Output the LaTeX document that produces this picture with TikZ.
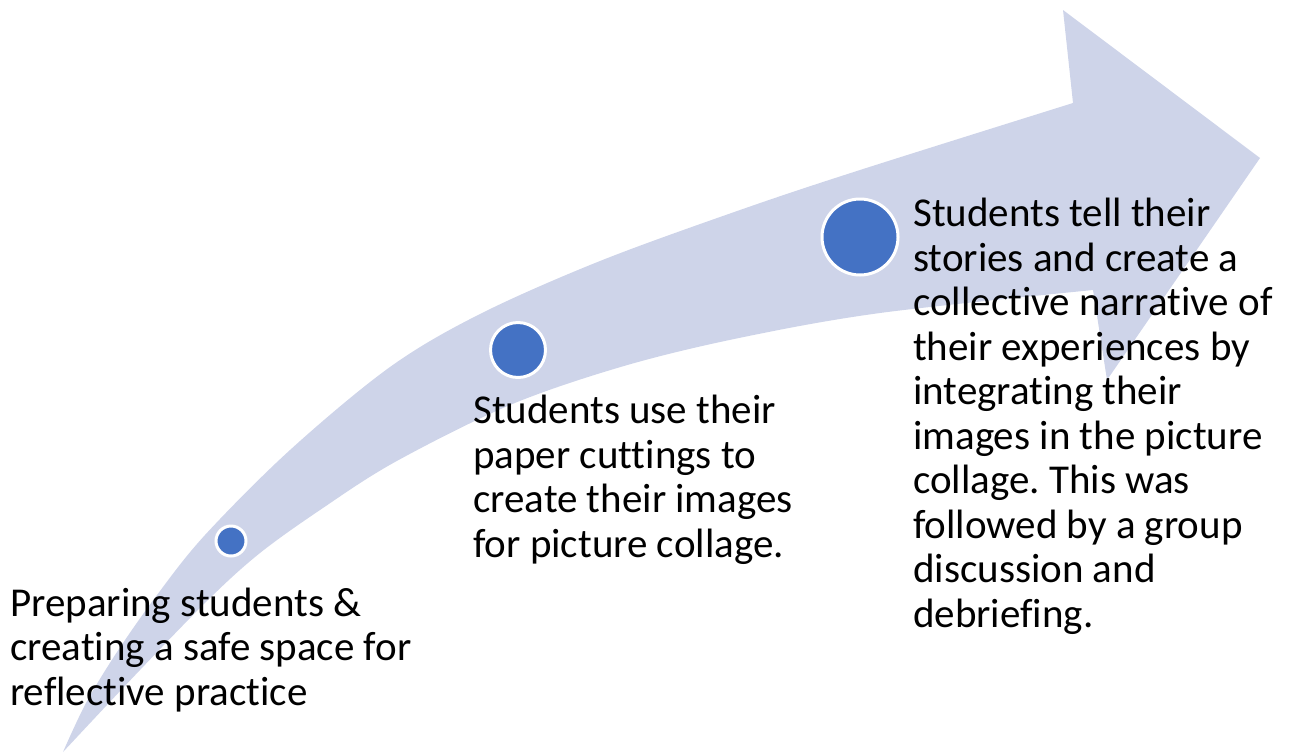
\documentclass[tikz,border=0pt]{standalone}
\usepackage{fontspec}
\setmainfont[Ligatures=NoCommon]{Carlito}
\definecolor{arrowfill}{HTML}{CED4E9}
\definecolor{dotblue}{HTML}{4472C4}
\frenchspacing
\begin{document}
\begin{tikzpicture}[x=1pt,y=-1pt,
  dot/.style={circle, fill=dotblue, draw=white, line width=3pt, inner sep=0pt},
  label/.style={anchor=base west, align=left, inner sep=0pt, font=\fontsize{41}{44.5}\selectfont}]
\useasboundingbox (0,0) rectangle (1289,753);
% curved arrow
\fill[arrowfill]
  plot[smooth, tension=0.55] coordinates {(63,752) (86,703) (117,652) (157,595) (205,535) (290,450) (390,367) (480,314) (600,261) (740,210) (860,170) (1073,103)}
  -- (1063,10) -- (1260,158) -- (1107,380) -- (1093,290)
  -- plot[smooth, tension=0.55] coordinates {(1093,290) (880,313) (739,338) (624,366) (510,405) (395,462) (320,510) (260,553) (210,598) (140,670) (63,752)}
  -- cycle;
% dots
\node[dot, minimum size=30pt] (c1) at (231,541) {};
\node[dot, minimum size=55pt] (c2) at (518,350) {};
\node[dot, minimum size=76pt] (c3) at (860,237) {};
% texts (anchored at the baseline of the last line)
\node[label] (t1) at (10,705) {Preparing students \&\\creating a safe space for\\reflective practice};
\node[label] (t2) at (473,557) {Students use their\\paper cuttings to\\create their images\\for picture collage.};
\node[label] (t3) at (913,627) {Students tell their\\stories and create a\\collective narrative of\\their experiences by\\integrating their\\images in the picture\\collage. This was\\followed by a group\\discussion and\\debriefing.};
\end{tikzpicture}
\end{document}
